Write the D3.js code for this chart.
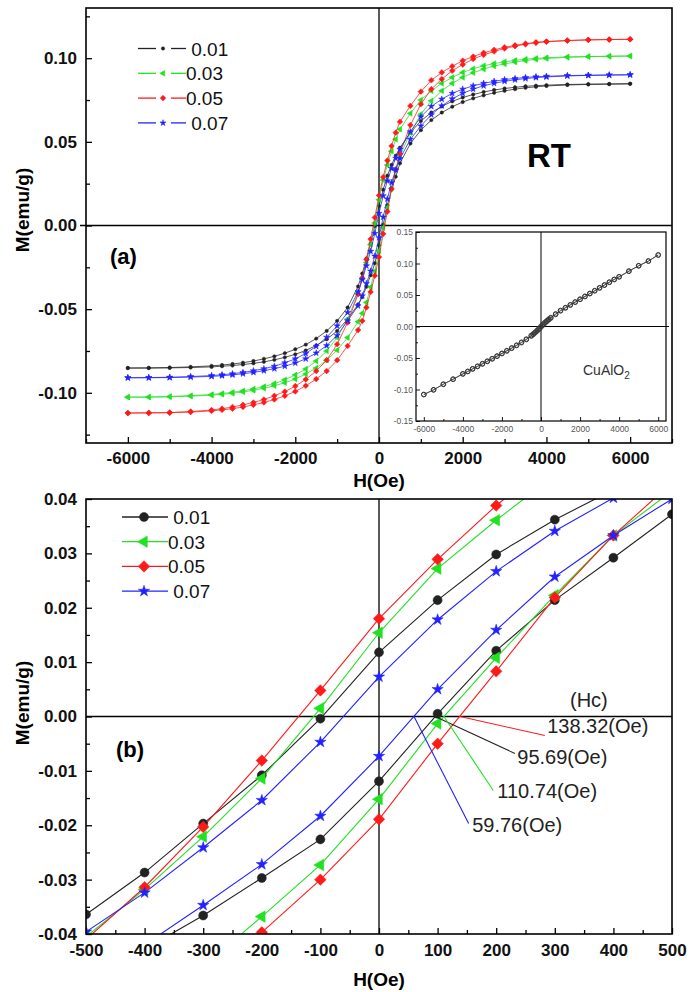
<!DOCTYPE html>
<html><head><meta charset="utf-8">
<script src="https://cdn.jsdelivr.net/npm/d3@7"></script>
<style>
body{margin:0;background:#fff}
svg{display:block}
text{font-family:"Liberation Sans",Arial,Helvetica,sans-serif}
</style>
</head><body>
<svg id="c" width="700" height="992"></svg>
<script>
// ---------------- DATA ----------------
const H = [-6000,-5500,-5000,-4500,-4000,-3750,-3500,-3250,-3000,-2750,-2500,-2250,-2000,-1750,-1500,-1250,-1000,-750,-500,-400,-300,-200,-100,0,100,200,300,400,500,750,1000,1250,1500,1750,2000,2250,2500,2750,3000,3250,3500,3750,4000,4500,5000,5500,6000];

// x = 0.01 (upper = descending field branch, lower = ascending branch)
const m001Upper = [-0.0852,-0.0851,-0.0849,-0.0845,-0.0839,-0.0834,-0.0828,-0.0820,-0.0810,-0.0797,-0.0782,-0.0763,-0.0740,-0.0712,-0.0676,-0.0630,-0.0570,-0.0490,-0.0364,-0.0287,-0.0197,-0.0108,-0.0004,0.0118,0.0214,0.0298,0.0362,0.0417,0.0465,0.0555,0.0625,0.0675,0.0712,0.0742,0.0765,0.0783,0.0798,0.0810,0.0819,0.0826,0.0832,0.0836,0.0839,0.0843,0.0845,0.0846,0.0847];
const m001Lower = [-0.0852,-0.0852,-0.0851,-0.0849,-0.0845,-0.0841,-0.0837,-0.0831,-0.0824,-0.0815,-0.0803,-0.0788,-0.0770,-0.0747,-0.0717,-0.0680,-0.0630,-0.0560,-0.0472,-0.0428,-0.0366,-0.0297,-0.0226,-0.0119,0.0005,0.0121,0.0214,0.0292,0.0372,0.0490,0.0570,0.0630,0.0675,0.0710,0.0738,0.0760,0.0778,0.0793,0.0805,0.0815,0.0823,0.0829,0.0834,0.0840,0.0843,0.0845,0.0847];
// x = 0.03
const m003Upper = [-0.1026,-0.1025,-0.1022,-0.1017,-0.1010,-0.1004,-0.0997,-0.0988,-0.0977,-0.0963,-0.0945,-0.0922,-0.0893,-0.0858,-0.0810,-0.0750,-0.0670,-0.0560,-0.0405,-0.0318,-0.0221,-0.0114,0.0015,0.0154,0.0272,0.0361,0.0444,0.0515,0.0575,0.0670,0.0750,0.0805,0.0850,0.0885,0.0915,0.0937,0.0955,0.0968,0.0978,0.0987,0.0994,0.0999,0.1003,0.1008,0.1010,0.1012,0.1013];
const m003Lower = [-0.1026,-0.1026,-0.1024,-0.1020,-0.1014,-0.1009,-0.1003,-0.0995,-0.0985,-0.0973,-0.0958,-0.0940,-0.0918,-0.0888,-0.0852,-0.0805,-0.0745,-0.0670,-0.0575,-0.0525,-0.0460,-0.0368,-0.0273,-0.0152,-0.0013,0.0108,0.0223,0.0333,0.0415,0.0555,0.0665,0.0745,0.0805,0.0850,0.0885,0.0913,0.0935,0.0953,0.0966,0.0977,0.0986,0.0993,0.0998,0.1005,0.1009,0.1011,0.1013];
// x = 0.05
const m005Upper = [-0.1121,-0.1120,-0.1118,-0.1112,-0.1103,-0.1095,-0.1085,-0.1072,-0.1058,-0.1040,-0.1018,-0.0993,-0.0960,-0.0920,-0.0870,-0.0805,-0.0710,-0.0580,-0.0410,-0.0314,-0.0203,-0.0081,0.0048,0.0180,0.0289,0.0388,0.0475,0.0555,0.0620,0.0715,0.0800,0.0868,0.0915,0.0952,0.0985,0.1010,0.1032,0.1050,0.1065,0.1077,0.1087,0.1095,0.1100,0.1106,0.1110,0.1112,0.1113];
const m005Lower = [-0.1121,-0.1120,-0.1119,-0.1115,-0.1108,-0.1102,-0.1095,-0.1085,-0.1072,-0.1058,-0.1040,-0.1018,-0.0992,-0.0958,-0.0918,-0.0870,-0.0805,-0.0720,-0.0625,-0.0570,-0.0490,-0.0397,-0.0300,-0.0189,-0.0050,0.0083,0.0219,0.0333,0.0430,0.0600,0.0725,0.0815,0.0875,0.0925,0.0962,0.0995,0.1020,0.1040,0.1058,0.1072,0.1083,0.1092,0.1098,0.1105,0.1109,0.1111,0.1113];
// x = 0.07
const m007Upper = [-0.0910,-0.0909,-0.0907,-0.0903,-0.0897,-0.0892,-0.0886,-0.0878,-0.0868,-0.0856,-0.0841,-0.0821,-0.0797,-0.0765,-0.0722,-0.0668,-0.0600,-0.0520,-0.0396,-0.0324,-0.0241,-0.0154,-0.0047,0.0073,0.0178,0.0267,0.0341,0.0402,0.0455,0.0560,0.0650,0.0712,0.0755,0.0790,0.0815,0.0835,0.0850,0.0862,0.0872,0.0879,0.0885,0.0889,0.0892,0.0896,0.0898,0.0900,0.0901];
const m007Lower = [-0.0910,-0.0910,-0.0909,-0.0906,-0.0902,-0.0898,-0.0893,-0.0886,-0.0878,-0.0868,-0.0856,-0.0841,-0.0822,-0.0797,-0.0762,-0.0718,-0.0657,-0.0570,-0.0480,-0.0420,-0.0347,-0.0272,-0.0183,-0.0073,0.0050,0.0159,0.0257,0.0333,0.0400,0.0515,0.0595,0.0662,0.0715,0.0757,0.0790,0.0815,0.0835,0.0850,0.0862,0.0871,0.0878,0.0884,0.0888,0.0894,0.0897,0.0899,0.0901];

// inset: CuAlO2
const insetUpper = [-0.1080,-0.1005,-0.0915,-0.0835,-0.0750,-0.0712,-0.0670,-0.0630,-0.0590,-0.0550,-0.0510,-0.0468,-0.0425,-0.0383,-0.0340,-0.0296,-0.0250,-0.0200,-0.0143,-0.0118,-0.0090,-0.0062,-0.0030,0.0005,0.0035,0.0065,0.0092,0.0118,0.0142,0.0200,0.0255,0.0300,0.0345,0.0390,0.0435,0.0480,0.0525,0.0570,0.0615,0.0660,0.0705,0.0748,0.0790,0.0880,0.0965,0.1040,0.1135];
const insetLower = [-0.1080,-0.1005,-0.0918,-0.0838,-0.0754,-0.0715,-0.0675,-0.0635,-0.0595,-0.0555,-0.0515,-0.0473,-0.0431,-0.0389,-0.0346,-0.0302,-0.0257,-0.0207,-0.0152,-0.0127,-0.0100,-0.0072,-0.0043,-0.0010,0.0022,0.0053,0.0081,0.0108,0.0133,0.0192,0.0248,0.0294,0.0340,0.0385,0.0430,0.0475,0.0521,0.0566,0.0611,0.0656,0.0701,0.0745,0.0787,0.0877,0.0963,0.1038,0.1135];

const seriesNames = ["0.01","0.03","0.05","0.07"];
const legendLabels = [" 0.01","0.03","0.05"," 0.07"];
const hcValues = [95.69,110.74,138.32,59.76];
const hcLabels = ["95.69(Oe)","110.74(Oe)","138.32(Oe)","59.76(Oe)"];

const xTicksA = [-6000,-4000,-2000,0,2000,4000,6000];
const xMinorA = [-7000,-5000,-3000,-1000,1000,3000,5000,7000];
const yTicksA = [-0.10,-0.05,0.00,0.05,0.10];
const yMinorA = [-0.125,-0.075,-0.025,0.025,0.075,0.125];
const xTicksB = [-500,-400,-300,-200,-100,0,100,200,300,400,500];
const xMinorB = [-450,-350,-250,-150,-50,50,150,250,350,450];
const yTicksB = [-0.04,-0.03,-0.02,-0.01,0.00,0.01,0.02,0.03,0.04];
const yMinorB = [-0.035,-0.025,-0.015,-0.005,0.005,0.015,0.025,0.035];
const xTicksI = [-6000,-4000,-2000,0,2000,4000,6000];
const xMinorI = [-5000,-3000,-1000,1000,3000,5000];
const yTicksI = [-0.15,-0.10,-0.05,0.00,0.05,0.10,0.15];
const yMinorI = [-0.125,-0.075,-0.025,0.025,0.075,0.125];

// ---------------- STYLE ----------------
const colors = ["#222222","#22e022","#ff1a1a","#2222ff"];
const symTypes = [d3.symbolCircle, d3.symbolTriangle, d3.symbolSquare, d3.symbolStar];
const symRot = [0,-90,45,0];
const upperSets = [m001Upper,m003Upper,m005Upper,m007Upper];
const lowerSets = [m001Lower,m003Lower,m005Lower,m007Lower];

const svg = d3.select("#c");
const FONT = '"Liberation Sans",Arial,sans-serif';

function marker(g, i, x, y, size) {
  g.append("path")
    .attr("d", d3.symbol().type(symTypes[i]).size(size)())
    .attr("transform", `translate(${x},${y}) rotate(${symRot[i]})`)
    .attr("fill", colors[i]).attr("stroke", colors[i]).attr("stroke-width", 0.5);
}

function axes(g, x, y, box, o) {
  const fmtY = d => d.toFixed(2);
  const ax = g.append("g").attr("transform", `translate(0,${box.b})`)
    .call(d3.axisBottom(x).tickValues(o.xt).tickSize(-o.maj).tickPadding(o.xpad).tickFormat(d => String(d)));
  ax.select(".domain").remove();
  ax.selectAll("text").attr("font-size", o.fs).attr("font-weight", o.fw).attr("fill", o.tc).attr("font-family", FONT);
  ax.selectAll("line").attr("stroke", "#000").attr("stroke-width", o.tw);
  const axm = g.append("g").attr("transform", `translate(0,${box.b})`)
    .call(d3.axisBottom(x).tickValues(o.xm).tickSize(-o.min).tickFormat(""));
  axm.select(".domain").remove();
  axm.selectAll("line").attr("stroke", "#000").attr("stroke-width", o.tw);
  const ay = g.append("g").attr("transform", `translate(${box.l},0)`)
    .call(d3.axisLeft(y).tickValues(o.yt).tickSize(-o.maj).tickPadding(o.ypad).tickFormat(fmtY));
  ay.select(".domain").remove();
  ay.selectAll("text").attr("font-size", o.fs).attr("font-weight", o.fw).attr("fill", o.tc).attr("font-family", FONT);
  ay.selectAll("line").attr("stroke", "#000").attr("stroke-width", o.tw);
  const aym = g.append("g").attr("transform", `translate(${box.l},0)`)
    .call(d3.axisLeft(y).tickValues(o.ym).tickSize(-o.min).tickFormat(""));
  aym.select(".domain").remove();
  aym.selectAll("line").attr("stroke", "#000").attr("stroke-width", o.tw);
}

// ---------------- PANEL A ----------------
const A = {l:86, r:672, t:8, b:443};
const xA = d3.scaleLinear().domain([-7000,7000]).range([A.l, A.r]);
const yA = d3.scaleLinear().domain([-0.13,0.13]).range([A.b, A.t]);
const gA = svg.append("g");
svg.append("clipPath").attr("id","clipA").append("rect").attr("x",A.l).attr("y",A.t).attr("width",A.r-A.l).attr("height",A.b-A.t);

axes(gA, xA, yA, A, {xt:xTicksA, xm:xMinorA, yt:yTicksA, ym:yMinorA, maj:6, min:4, xpad:9, ypad:9, fs:17, fw:"bold", tc:"#111", tw:1.3});

gA.append("line").attr("x1",A.l-6).attr("x2",A.r).attr("y1",yA(0)).attr("y2",yA(0)).attr("stroke","#000").attr("stroke-width",1.3);
gA.append("line").attr("x1",xA(0)).attr("x2",xA(0)).attr("y1",A.t).attr("y2",A.b).attr("stroke","#000").attr("stroke-width",1.3);

const dataA = gA.append("g").attr("clip-path","url(#clipA)");
const sizesA = [9, 14, 16, 12];
seriesNames.forEach((nm, i) => {
  [upperSets[i], lowerSets[i]].forEach(arr => {
    const line = d3.line().x((d,k) => xA(H[k])).y(d => yA(d));
    dataA.append("path").attr("d", line(arr)).attr("fill","none").attr("stroke",colors[i]).attr("stroke-width",0.9).attr("opacity",0.85);
    arr.forEach((v,k) => marker(dataA, i, xA(H[k]), yA(v), sizesA[i]));
  });
});

gA.append("rect").attr("x",A.l).attr("y",A.t).attr("width",A.r-A.l).attr("height",A.b-A.t)
  .attr("fill","none").attr("stroke","#000").attr("stroke-width",1.6);

// legend A
const legA = gA.append("g");
seriesNames.forEach((nm,i) => {
  const y = 48.5 + i*24.8;
  legA.append("line").attr("x1",138).attr("x2",156).attr("y1",y).attr("y2",y).attr("stroke",colors[i]).attr("stroke-width",1.3);
  legA.append("line").attr("x1",171).attr("x2",186).attr("y1",y).attr("y2",y).attr("stroke",colors[i]).attr("stroke-width",1.3);
  marker(legA, i, 163, y, sizesA[i]);
  legA.append("text").attr("x",186).attr("y",y+7).attr("font-size",19).attr("fill","#111")
    .style("white-space","pre").text(legendLabels[i]);
});

gA.append("text").attr("x",110).attr("y",264).attr("font-size",22).attr("font-weight","bold").text("(a)");
gA.append("text").attr("x",527).attr("y",167).attr("font-size",33).attr("font-weight","bold").text("RT");
gA.append("text").attr("x",(A.l+A.r)/2).attr("y",487).attr("text-anchor","middle").attr("font-size",19).attr("font-weight","bold").text("H(Oe)");
gA.append("text").attr("transform",`translate(29,${210}) rotate(-90)`).attr("text-anchor","middle").attr("font-size",19).attr("font-weight","bold").text("M(emu/g)");

// ---------------- INSET ----------------
const I = {l:416, r:666, t:232, b:421};
const xI = d3.scaleLinear().domain([-6400,6400]).range([I.l, I.r]);
const yI = d3.scaleLinear().domain([-0.15,0.15]).range([I.b, I.t]);
const gI = svg.append("g");
gI.append("rect").attr("x",I.l).attr("y",I.t).attr("width",I.r-I.l).attr("height",I.b-I.t).attr("fill","#fff");
axes(gI, xI, yI, I, {xt:xTicksI, xm:xMinorI, yt:yTicksI, ym:yMinorI, maj:4, min:2, xpad:5, ypad:3, fs:8.5, fw:"normal", tc:"#555", tw:0.9});
gI.append("line").attr("x1",I.l).attr("x2",I.r+3).attr("y1",yI(0)).attr("y2",yI(0)).attr("stroke","#000").attr("stroke-width",1);
gI.append("line").attr("x1",xI(0)).attr("x2",xI(0)).attr("y1",I.t).attr("y2",I.b).attr("stroke","#000").attr("stroke-width",1);
[insetUpper, insetLower].forEach(arr => {
  const line = d3.line().x((d,k) => xI(H[k])).y(d => yI(d));
  gI.append("path").attr("d", line(arr)).attr("fill","none").attr("stroke","#444").attr("stroke-width",0.8);
  arr.forEach((v,k) => gI.append("circle").attr("cx",xI(H[k])).attr("cy",yI(v)).attr("r",2.3)
    .attr("fill","none").attr("stroke","#333").attr("stroke-width",0.9));
});
gI.append("rect").attr("x",I.l).attr("y",I.t).attr("width",I.r-I.l).attr("height",I.b-I.t)
  .attr("fill","none").attr("stroke","#000").attr("stroke-width",1.2);
const cu = gI.append("text").attr("x",583).attr("y",375).attr("font-size",14).attr("fill","#333");
cu.append("tspan").text("CuAlO");
cu.append("tspan").attr("font-size",10).attr("dy",4).text("2");

// ---------------- PANEL B ----------------
const B = {l:86, r:672, t:499, b:934};
const xB = d3.scaleLinear().domain([-500,500]).range([B.l, B.r]);
const yB = d3.scaleLinear().domain([-0.04,0.04]).range([B.b, B.t]);
const gB = svg.append("g");
svg.append("clipPath").attr("id","clipB").append("rect").attr("x",B.l).attr("y",B.t).attr("width",B.r-B.l).attr("height",B.b-B.t);

axes(gB, xB, yB, B, {xt:xTicksB, xm:xMinorB, yt:yTicksB, ym:yMinorB, maj:6, min:4, xpad:10, ypad:9, fs:17, fw:"bold", tc:"#111", tw:1.3});
gB.append("line").attr("x1",B.l).attr("x2",B.r).attr("y1",yB(0)).attr("y2",yB(0)).attr("stroke","#000").attr("stroke-width",1.3);
gB.append("line").attr("x1",xB(0)).attr("x2",xB(0)).attr("y1",B.t).attr("y2",B.b).attr("stroke","#000").attr("stroke-width",1.3);

const dataB = gB.append("g").attr("clip-path","url(#clipB)");
const sizesB = [64, 58, 66, 40];
seriesNames.forEach((nm, i) => {
  [upperSets[i], lowerSets[i]].forEach(arr => {
    const line = d3.line().x((d,k) => xB(H[k])).y(d => yB(d));
    dataB.append("path").attr("d", line(arr)).attr("fill","none").attr("stroke",colors[i]).attr("stroke-width",1.1);
  });
});
seriesNames.forEach((nm, i) => {
  [upperSets[i], lowerSets[i]].forEach(arr => {
    arr.forEach((v,k) => { if (Math.abs(H[k]) <= 600) marker(dataB, i, xB(H[k]), yB(v), sizesB[i]); });
  });
});

// Hc annotations
const hcOrder = [2,0,1,3];
const annEnd = [[232,-0.0068],[195,-0.0136],[283,-0.0035],[153,-0.0197]];
const annText = [[236,-0.0088],[202,-0.0149],[287,-0.0031],[159,-0.0213]];
hcOrder.forEach(i => {
  gB.append("line").attr("x1",xB(hcValues[i])).attr("y1",yB(0)).attr("x2",xB(annEnd[i][0])).attr("y2",yB(annEnd[i][1]))
    .attr("stroke",colors[i]).attr("stroke-width",1.1);
  gB.append("text").attr("x",xB(annText[i][0])).attr("y",yB(annText[i][1])).attr("font-size",20).attr("fill","#222").text(hcLabels[i]);
});
gB.append("text").attr("x",570).attr("y",707).attr("font-size",20).attr("fill","#222").text("(Hc)");

gB.append("rect").attr("x",B.l).attr("y",B.t).attr("width",B.r-B.l).attr("height",B.b-B.t)
  .attr("fill","none").attr("stroke","#000").attr("stroke-width",1.6);

// legend B
const legB = gB.append("g");
seriesNames.forEach((nm,i) => {
  const y = 517 + i*24.7;
  legB.append("line").attr("x1",122).attr("x2",168).attr("y1",y).attr("y2",y).attr("stroke",colors[i]).attr("stroke-width",1.3);
  marker(legB, i, 144, y, sizesB[i]);
  legB.append("text").attr("x",168).attr("y",y+7).attr("font-size",19).attr("fill","#111")
    .style("white-space","pre").text(legendLabels[i]);
});

gB.append("text").attr("x",116).attr("y",757).attr("font-size",22).attr("font-weight","bold").text("(b)");
gB.append("text").attr("x",(B.l+B.r)/2).attr("y",986).attr("text-anchor","middle").attr("font-size",19).attr("font-weight","bold").text("H(Oe)");
gB.append("text").attr("transform",`translate(29,${703}) rotate(-90)`).attr("text-anchor","middle").attr("font-size",19).attr("font-weight","bold").text("M(emu/g)");
</script>
</body></html>
